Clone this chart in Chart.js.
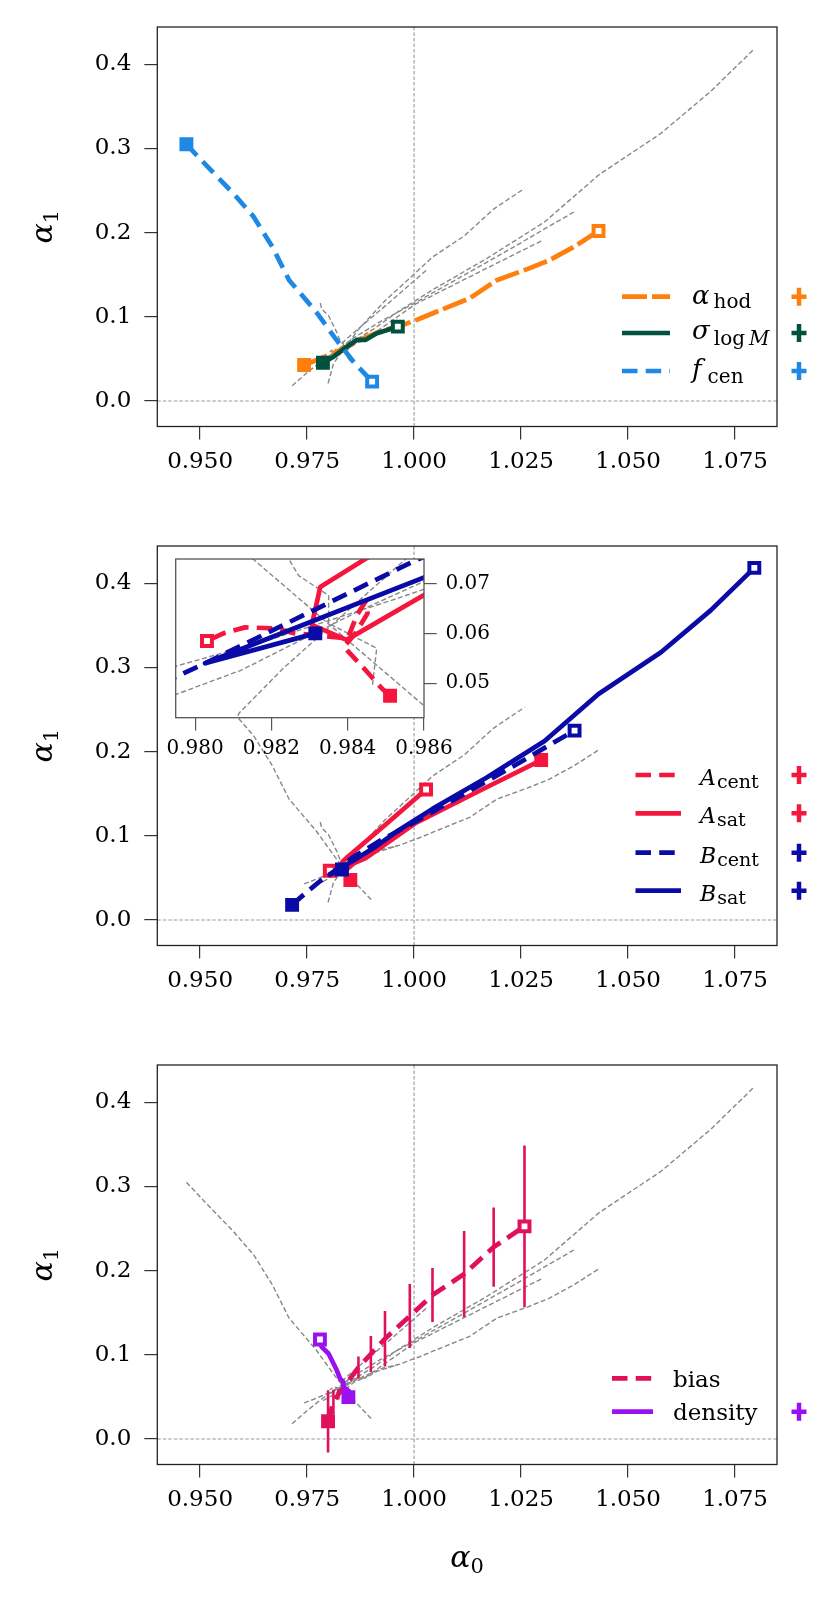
<!DOCTYPE html>
<html><head><meta charset="utf-8">
<script src="https://cdn.jsdelivr.net/npm/chart.js@4.4.1/dist/chart.umd.min.js"></script>
<style>
html,body{margin:0;padding:0;background:#fff;}
#wrap{position:relative;width:829px;height:1600px;overflow:hidden;}
canvas{position:absolute;}
</style></head><body><div id="wrap">
<canvas id="c1" width="829" height="519" style="left:0;top:0;width:829px;height:519px"></canvas>
<canvas id="c2" width="829" height="519" style="left:0;top:519px;width:829px;height:519px"></canvas>
<canvas id="c3" width="829" height="562" style="left:0;top:1038px;width:829px;height:562px"></canvas>
<canvas id="c4" width="359" height="229" style="left:135px;top:534px;width:359px;height:229px"></canvas>
</div>
<script>
// ---------- tick labels ----------
const xTickValues=[0.950,0.975,1.000,1.025,1.050,1.075];
const xTickLabels=['0.950','0.975','1.000','1.025','1.050','1.075'];
const yTickValues=[0.0,0.1,0.2,0.3,0.4];
const yTickLabels=['0.0','0.1','0.2','0.3','0.4'];
const insetXTickValues=[0.980,0.982,0.984,0.986];
const insetXTickLabels=['0.980','0.982','0.984','0.986'];
const insetYTickValues=[0.05,0.06,0.07];
const insetYTickLabels=['0.05','0.06','0.07'];

// ---------- series (first point = filled marker, last = open marker) ----------
const alphaHodX=[0.9743,0.9773,0.9819,0.9851,0.9882,0.9928,0.9967,1.0014,1.0062,1.0130,1.0193,1.0266,1.0315,1.0373,1.0431];
const alphaHodY=[0.0428,0.0487,0.0586,0.0665,0.0745,0.0843,0.0890,0.0980,0.1080,0.1220,0.1435,0.1570,0.1670,0.1830,0.2020];
const sigmaX=[0.9787,0.9812,0.9843,0.9866,0.9886,0.9913,0.9962];
const sigmaY=[0.0455,0.0526,0.0645,0.0725,0.0725,0.0804,0.0883];
const fcenX=[0.9468,0.9518,0.9577,0.9625,0.9669,0.9708,0.9771,0.9815,0.9860,0.9902];
const fcenY=[0.3050,0.2780,0.2470,0.2190,0.1830,0.1435,0.1060,0.0750,0.0455,0.0230];
const aCentX=[0.98511,0.98489,0.98446,0.98390,0.98420,0.98452,0.98446,0.98425,0.98400,0.98306,0.98262,0.98210,0.98131,0.98074,0.98031];
const aCentY=[0.0475,0.0490,0.0527,0.0573,0.0600,0.0640,0.0663,0.0638,0.0590,0.0597,0.0600,0.0610,0.0612,0.0600,0.05846];
const aSatX=[1.0297,1.0159,1.0004,0.9887,0.9860,0.98397,0.98306,0.98328,0.98446,0.9935,1.0028];
const aSatY=[0.1900,0.1550,0.1153,0.0736,0.0677,0.0587,0.0617,0.0693,0.0749,0.1140,0.1550];
const bCentX=[0.9715,0.9751,0.9780,0.98026,0.9858,0.9920,1.0000,1.0080,1.0160,1.0240,1.0310,1.0375];
const bCentY=[0.0180,0.0340,0.0460,0.0540,0.0747,0.0940,0.1160,0.1390,0.1620,0.1850,0.2060,0.2250];
const bSatX=[0.98315,0.98026,0.98603,0.9907,0.9965,1.0043,1.0169,1.0305,1.0431,1.0577,1.0693,1.0795];
const bSatY=[0.0600,0.0540,0.0713,0.0860,0.1070,0.1320,0.1690,0.2127,0.2684,0.3180,0.3678,0.4183];
const biasX=[0.9799,0.98115,0.98231,0.9870,0.9899,0.9932,0.9990,1.0043,1.0117,1.0186,1.0258];
const biasY=[0.0210,0.0440,0.0530,0.0850,0.1010,0.1190,0.1460,0.1710,0.1960,0.2280,0.2526];
const biasErr=[0.0370,0.0145,0.0060,0.0130,0.0215,0.0330,0.0380,0.0320,0.0510,0.0470,0.0960];
const densityX=[0.98465,0.98476,0.9835,0.9835,0.98271,0.98194,0.9800,0.9784,0.9780];
const densityY=[0.0497,0.0570,0.0620,0.0676,0.0716,0.0816,0.1015,0.1094,0.1182];

// ---------- styles ----------
const C={orange:'#ff7f0e',green:'#00513d',fcen:'#1e88e5',red:'#f5163e',blue:'#0a0aa6',bias:'#e0105c',dens:'#9b10ee',gray:'#888888'};
const DASH=[15.5,8.2], LDASH=[25,5];
const FONT="'DejaVu Serif', serif";
const LW=4.7;

function pts(xs,ys){return xs.map((x,i)=>({x:x,y:ys[i]}));}
const allSeries={alphaHod:[alphaHodX,alphaHodY],sigma:[sigmaX,sigmaY],fcen:[fcenX,fcenY],aCent:[aCentX,aCentY],aSat:[aSatX,aSatY],
  bCent:[bCentX,bCentY],bSat:[bSatX,bSatY],bias:[biasX,biasY],density:[densityX,densityY]};

function grayDatasets(exclude,clip){
  return Object.keys(allSeries).filter(k=>exclude.indexOf(k)<0).map(k=>{const s=allSeries[k];return {data:pts(s[0],s[1]),showLine:true,borderColor:C.gray,borderWidth:1.4,borderDash:[5,2.6],
    pointRadius:0,pointHoverRadius:0,order:100,fill:false,tension:0,clip:clip};});
}
function colored(label,xs,ys,color,dash,order,clip){
  const n=xs.length;
  return {label:label,data:pts(xs,ys),showLine:true,borderColor:color,borderWidth:LW,borderDash:dash,
    borderJoinStyle:'round',borderCapStyle:'butt',fill:false,tension:0,order:order,clip:clip,
    pointStyle:'rect',pointRadius:c=>(c.dataIndex===0||c.dataIndex===n-1)?7:0,pointHoverRadius:0,
    pointBorderWidth:4,pointBorderColor:color,pointBackgroundColor:c=>c.dataIndex===0?color:'#ffffff'};
}

// ---------- helpers for text ----------
function drawParts(ctx,x,y,parts){
  let cx=x;
  parts.forEach(p=>{
    const [t,it,size,dy,gap]=p;
    cx+=gap||0;
    ctx.font=(it?'italic ':'')+size+'px '+FONT;
    ctx.fillStyle='#000';ctx.textAlign='left';ctx.textBaseline='alphabetic';
    ctx.fillText(t,cx,y+dy);
    cx+=ctx.measureText(t).width;
  });
  return cx-x;
}
function partsWidth(ctx,parts){
  let w=0;parts.forEach(p=>{ctx.font=(p[1]?'italic ':'')+p[2]+'px '+FONT;w+=(p[4]||0)+ctx.measureText(p[0]).width;});return w;
}

function makePanelPlugin(cfg){
  return {
    id:'panel'+cfg.id,
    beforeDatasetsDraw(chart){
      const ctx=chart.ctx,a=chart.chartArea,xs=chart.scales.x,ys=chart.scales.y;
      ctx.save();
      ctx.strokeStyle='#9a9a9a';ctx.lineWidth=1.1;ctx.setLineDash([3.5,2]);
      const y0=ys.getPixelForValue(0),x1=xs.getPixelForValue(1);
      ctx.beginPath();ctx.moveTo(a.left,y0);ctx.lineTo(a.right,y0);ctx.stroke();
      ctx.beginPath();ctx.moveTo(x1,a.top);ctx.lineTo(x1,a.bottom);ctx.stroke();
      ctx.restore();
    },
    beforeDatasetDraw(chart,args){
      if(!cfg.errorbars) return;
      const ds=chart.data.datasets[args.index];
      if(ds.label!=='bias') return;
      const ctx=chart.ctx,a=chart.chartArea,xs=chart.scales.x,ys=chart.scales.y;
      ctx.save();ctx.beginPath();ctx.rect(a.left,a.top,a.right-a.left,a.bottom-a.top);ctx.clip();
      ctx.strokeStyle=C.bias;ctx.lineWidth=2.6;ctx.setLineDash([]);
      biasX.forEach((bx,i)=>{
        const px=xs.getPixelForValue(bx);
        ctx.beginPath();ctx.moveTo(px,ys.getPixelForValue(biasY[i]-biasErr[i]));ctx.lineTo(px,ys.getPixelForValue(biasY[i]+biasErr[i]));ctx.stroke();
      });
      ctx.restore();
    },
    afterDraw(chart){
      const ctx=chart.ctx,a=chart.chartArea;
      ctx.save();
      ctx.strokeStyle='#222';ctx.lineWidth=1.3;ctx.setLineDash([]);
      ctx.strokeRect(a.left,a.top,a.right-a.left,a.bottom-a.top);
      // legend
      const L=cfg.legend;
      L.entries.forEach((e,i)=>{
        const y=L.rows[i];
        ctx.strokeStyle=e.color;ctx.lineWidth=LW;ctx.lineCap='butt';ctx.setLineDash(e.dash);
        ctx.beginPath();ctx.moveTo(L.hx[0],y);ctx.lineTo(L.hx[1],y);ctx.stroke();
        ctx.setLineDash([]);
        drawParts(ctx,L.lx,y,e.parts);
        if(e.plus){
          ctx.strokeStyle=e.color;ctx.lineWidth=4.5;
          ctx.beginPath();ctx.moveTo(L.px-7.5,y);ctx.lineTo(L.px+7.5,y);ctx.moveTo(L.px,y-9);ctx.lineTo(L.px,y+9);ctx.stroke();
        }
      });
      // y title
      const yt=[['α',1,30,0,0],['1',0,21,6,0]];
      ctx.translate(52,(a.top+a.bottom)/2);ctx.rotate(-Math.PI/2);
      const w=partsWidth(ctx,yt);
      drawParts(ctx,-w/2,0,yt);
      ctx.restore();
      if(cfg.xtitle){
        ctx.save();
        const xt=[['α',1,30,0,0],['0',0,21,6,0]];
        const w2=partsWidth(ctx,xt);
        drawParts(ctx,(a.left+a.right)/2-w2/2,cfg.xtitleY,xt);
        ctx.restore();
      }
    }
  };
}

function mainOptions(canvasH){
  return {
    responsive:false,animation:false,events:[],
    layout:{padding:{left:0,top:27,right:52,bottom:0}},
    plugins:{legend:{display:false},tooltip:{enabled:false}},
    scales:{
      x:{type:'linear',position:'bottom',min:0.94,max:1.0848,
        afterFit:s=>{s.height=canvasH-426.5;},
        afterBuildTicks:s=>{s.ticks=xTickValues.map(v=>({value:v}));},
        grid:{display:true,drawOnChartArea:false,drawTicks:true,tickLength:13,color:'#333',lineWidth:1.2},
        border:{display:false},
        ticks:{font:{family:FONT,size:23},color:'#000',padding:9,maxRotation:0,autoSkip:false,
          callback:v=>xTickLabels[xTickValues.indexOf(v)]}},
      y:{type:'linear',position:'left',min:-0.0303,max:0.4443,
        afterFit:s=>{s.width=157.3;},
        afterBuildTicks:s=>{s.ticks=yTickValues.map(v=>({value:v}));},
        grid:{display:true,drawOnChartArea:false,drawTicks:true,tickLength:13,color:'#333',lineWidth:1.2},
        border:{display:false},
        ticks:{font:{family:FONT,size:23},color:'#000',padding:13,autoSkip:false,
          callback:v=>yTickLabels[yTickValues.indexOf(v)]}}
    }
  };
}

// ---------- panel 1 ----------
new Chart(document.getElementById('c1'),{
  type:'scatter',
  data:{datasets:[
    colored('fcen',fcenX,fcenY,C.fcen,DASH,1),
    colored('sigma',sigmaX,sigmaY,C.green,[],2),
    colored('alphahod',alphaHodX,alphaHodY,C.orange,LDASH,3),
    ...grayDatasets(['alphaHod','sigma','fcen'],undefined)
  ]},
  options:mainOptions(519),
  plugins:[makePanelPlugin({id:1,legend:{hx:[622,670],lx:692,px:799,rows:[296.7,333,371],entries:[
    {color:C.orange,dash:LDASH,plus:true,parts:[['α',1,26,7,0],['hod',0,20,11.5,4]]},
    {color:C.green,dash:[],plus:true,parts:[['σ',1,26,6,0],['log',0,20,11.5,4],['M',1,20,11.5,4]]},
    {color:C.fcen,dash:DASH,plus:true,parts:[['f',1,26,7,0],['cen',0,20,11.5,6]]}
  ]}})]
});

// ---------- panel 2 ----------
function panel2Datasets(clip){
  return [
    colored('bsat',bSatX,bSatY,C.blue,[],1,clip),
    colored('bcent',bCentX,bCentY,C.blue,DASH,2,clip),
    colored('asat',aSatX,aSatY,C.red,[],3,clip),
    colored('acent',aCentX,aCentY,C.red,DASH,4,clip),
    ...grayDatasets(['aCent','aSat','bCent','bSat'],clip)
  ];
}
new Chart(document.getElementById('c2'),{
  type:'scatter',
  data:{datasets:panel2Datasets(undefined)},
  options:mainOptions(519),
  plugins:[makePanelPlugin({id:2,legend:{hx:[635.5,681],lx:700,px:799,rows:[256,294.3,333.7,371.7],entries:[
    {color:C.red,dash:DASH,plus:true,parts:[['A',1,22,10,0],['cent',0,19,13,1]]},
    {color:C.red,dash:[],plus:true,parts:[['A',1,22,10,0],['sat',0,19,13,1]]},
    {color:C.blue,dash:DASH,plus:true,parts:[['B',1,22,10,0],['cent',0,19,13,1]]},
    {color:C.blue,dash:[],plus:true,parts:[['B',1,22,10,0],['sat',0,19,13,1]]}
  ]}})]
});

// ---------- panel 3 ----------
new Chart(document.getElementById('c3'),{
  type:'scatter',
  data:{datasets:[
    colored('density',densityX,densityY,C.dens,[],1),
    colored('bias',biasX,biasY,C.bias,DASH,2),
    ...grayDatasets(['bias','density'],undefined)
  ]},
  options:mainOptions(562),
  plugins:[makePanelPlugin({id:3,errorbars:true,xtitle:true,xtitleY:529,legend:{hx:[612,653],lx:673,px:799,rows:[340.3,373.7],entries:[
    {color:C.bias,dash:DASH,plus:false,parts:[['bias',0,23,8.4,0]]},
    {color:C.dens,dash:[],plus:true,parts:[['density',0,23,8.3,0]]}
  ]}})]
});

// ---------- inset ----------
new Chart(document.getElementById('c4'),{
  type:'scatter',
  data:{datasets:panel2Datasets(0)},
  options:{
    responsive:false,animation:false,events:[],
    layout:{padding:{left:40.7,top:25,right:0,bottom:0}},
    plugins:{legend:{display:false},tooltip:{enabled:false}},
    scales:{
      x:{type:'linear',position:'bottom',min:0.97949,max:0.986,
        afterFit:s=>{s.height=45.3;},
        afterBuildTicks:s=>{s.ticks=insetXTickValues.map(v=>({value:v}));},
        grid:{display:true,drawOnChartArea:false,drawTicks:true,tickLength:12.7,color:'#555',lineWidth:1.2},
        border:{display:false},
        ticks:{font:{family:FONT,size:20},color:'#000',padding:6,maxRotation:0,autoSkip:false,
          callback:v=>insetXTickLabels[insetXTickValues.indexOf(v)]}},
      y:{type:'linear',position:'right',min:0.0431,max:0.0749,
        afterFit:s=>{s.width=70;},
        afterBuildTicks:s=>{s.ticks=insetYTickValues.map(v=>({value:v}));},
        grid:{display:true,drawOnChartArea:false,drawTicks:true,tickLength:12.7,color:'#555',lineWidth:1.2},
        border:{display:false},
        ticks:{font:{family:FONT,size:20},color:'#000',padding:8.7,autoSkip:false,
          callback:v=>insetYTickLabels[insetYTickValues.indexOf(v)]}}
    }
  },
  plugins:[{id:'insetbg',
    beforeDatasetsDraw(chart){const a=chart.chartArea,ctx=chart.ctx;ctx.save();ctx.fillStyle='#fff';ctx.fillRect(a.left,a.top,a.right-a.left,a.bottom-a.top);ctx.restore();},
    afterDraw(chart){const a=chart.chartArea,ctx=chart.ctx;ctx.save();ctx.strokeStyle='#555';ctx.lineWidth=1.3;ctx.strokeRect(a.left,a.top,a.right-a.left,a.bottom-a.top);ctx.restore();}
  }]
});
</script></body></html>
